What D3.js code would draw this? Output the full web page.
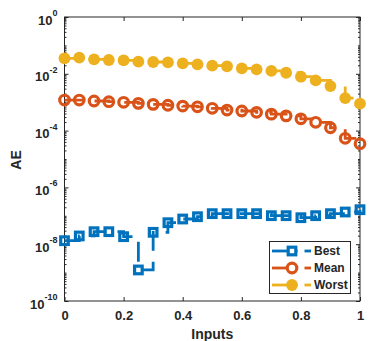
<!DOCTYPE html>
<html>
<head>
<meta charset="utf-8">
<script src="https://cdn.jsdelivr.net/npm/d3@7"></script>
<style>
  html, body { margin: 0; padding: 0; background: #fff; }
  svg { display: block; }
  text { font-family: "Liberation Sans", Arial, Helvetica, sans-serif; font-weight: bold; fill: #262626; }
</style>
</head>
<body>
<svg id="chart" width="375" height="341"></svg>
<script>
// Input positions (0 to 1 in steps of 0.05)
const inputs = [0, 0.05, 0.1, 0.15, 0.2, 0.25, 0.3, 0.35, 0.4, 0.45, 0.5,
                0.55, 0.6, 0.65, 0.7, 0.75, 0.8, 0.85, 0.9, 0.95, 1];

// Absolute error per input
const bestAE = [1.33e-8, 1.95e-8, 2.76e-8, 2.76e-8, 1.84e-8, 1.24e-9, 2.62e-8, 5.71e-8, 7.71e-8, 9.29e-8, 1.19e-7,
                1.19e-7, 1.19e-7, 1.19e-7, 1.01e-7, 1.01e-7, 8.57e-8, 1.01e-7, 1.19e-7, 1.36e-7, 1.64e-7];
const meanAE = [1.19e-3, 1.19e-3, 1.10e-3, 1.04e-3, 9.9e-4, 9.1e-4, 8.4e-4, 7.8e-4, 7.3e-4, 6.9e-4, 6.1e-4,
                5.3e-4, 4.9e-4, 4.4e-4, 3.8e-4, 3.3e-4, 2.6e-4, 1.96e-4, 1.26e-4, 5.35e-5, 3.46e-5];
const worstAE = [0.0352, 0.0369, 0.0324, 0.0306, 0.0299, 0.0267, 0.0260, 0.0254, 0.0234, 0.0216, 0.0193,
                 0.0184, 0.0156, 0.0144, 0.0126, 0.0109, 0.0079, 0.0059, 0.0037, 0.0014, 0.00089];

const seriesNames = ["Best", "Mean", "Worst"];
const seriesColors = ["#0072BD", "#D95319", "#EDB120"];
const xTicks = [0, 0.2, 0.4, 0.6, 0.8, 1];
const yTicks = [1e-10, 1e-8, 1e-6, 1e-4, 1e-2, 1];

const svg = d3.select("#chart");
const plotL = 64.5, plotR = 360, plotT = 17, plotB = 301;

const x = d3.scaleLinear().domain([0, 1]).range([plotL, plotR]);
const y = d3.scaleLog().domain([1e-10, 1]).range([plotB, plotT]);

// minor ticks on the log axis: 1..9 x 10^k, without labelled decades
const minorTicks = [];
for (let e = -10; e < 0; e++) {
  for (let m = 1; m <= 9; m++) {
    const v = m * Math.pow(10, e);
    if (!yTicks.some(t => Math.abs(t - v) / t < 1e-9)) minorTicks.push(v);
  }
}

const axisColor = "#262626";

// axes box
svg.append("rect")
  .attr("x", plotL).attr("y", plotT)
  .attr("width", plotR - plotL).attr("height", plotB - plotT)
  .attr("fill", "none").attr("stroke", axisColor).attr("stroke-width", 1);

// bottom axis (ticks point inward)
const gx = svg.append("g")
  .attr("transform", `translate(0,${plotB})`)
  .call(d3.axisBottom(x).tickValues(xTicks).tickFormat(d3.format("")).tickSizeInner(-4).tickSizeOuter(0).tickPadding(10));
gx.select(".domain").remove();
gx.selectAll("line").attr("stroke", axisColor);
gx.selectAll("text").style("font-size", "13px").attr("fill", axisColor);

// top axis ticks
const gxt = svg.append("g")
  .attr("transform", `translate(0,${plotT})`)
  .call(d3.axisTop(x).tickValues(xTicks).tickFormat("").tickSizeInner(-4).tickSizeOuter(0));
gxt.select(".domain").remove();
gxt.selectAll("line").attr("stroke", axisColor);

// left axis: major ticks with power-of-ten labels
const gy = svg.append("g")
  .attr("transform", `translate(${plotL},0)`)
  .call(d3.axisLeft(y).tickValues(yTicks).tickSizeInner(-4).tickSizeOuter(0).tickPadding(7));
gy.select(".domain").remove();
gy.selectAll("line").attr("stroke", axisColor);
gy.selectAll(".tick text")
  .attr("dy", null).attr("y", 7)
  .style("font-size", "13px")
  .each(function(d) {
    const t = d3.select(this).text(null);
    t.append("tspan").text("10");
    t.append("tspan").text(String(Math.round(Math.log10(d))))
      .style("font-size", "9px").attr("dy", -8.5);
  });

// left axis minor ticks
const gym = svg.append("g")
  .attr("transform", `translate(${plotL},0)`)
  .call(d3.axisLeft(y).tickValues(minorTicks).tickFormat("").tickSizeInner(-2).tickSizeOuter(0));
gym.select(".domain").remove();
gym.selectAll("line").attr("stroke", axisColor);

// right axis ticks (major and minor)
const gyr = svg.append("g")
  .attr("transform", `translate(${plotR},0)`)
  .call(d3.axisRight(y).tickValues(yTicks).tickFormat("").tickSizeInner(-4).tickSizeOuter(0));
gyr.select(".domain").remove();
gyr.selectAll("line").attr("stroke", axisColor);
const gyrm = svg.append("g")
  .attr("transform", `translate(${plotR},0)`)
  .call(d3.axisRight(y).tickValues(minorTicks).tickFormat("").tickSizeInner(-2).tickSizeOuter(0));
gyrm.select(".domain").remove();
gyrm.selectAll("line").attr("stroke", axisColor);

// axis titles
svg.append("text")
  .attr("x", (plotL + plotR) / 2).attr("y", 339)
  .attr("text-anchor", "middle").style("font-size", "14px")
  .text("Inputs");
svg.append("text")
  .attr("transform", "translate(21,160) rotate(-90)")
  .attr("text-anchor", "middle").style("font-size", "14px")
  .text("AE");

// data series: stepped dashed lines with markers
const seriesValues = [bestAE, meanAE, worstAE];
const line = d3.line()
  .x(d => x(d[0]))
  .y(d => y(d[1]))
  .curve(d3.curveStepAfter);

const symbols = [
  (g, c) => g.append("rect").attr("x", -3.8).attr("y", -3.8).attr("width", 7.6).attr("height", 7.6)
             .attr("fill", "none").attr("stroke", c).attr("stroke-width", 3.2),
  (g, c) => g.append("circle").attr("r", 4.8)
             .attr("fill", "none").attr("stroke", c).attr("stroke-width", 3.2),
  (g, c) => g.append("circle").attr("r", 5.9)
             .attr("fill", c).attr("stroke", "none")
];

seriesValues.forEach((vals, i) => {
  const pts = inputs.map((v, j) => [v, vals[j]]);
  const g = svg.append("g");
  g.append("path")
    .attr("d", line(pts))
    .attr("fill", "none")
    .attr("stroke", seriesColors[i])
    .attr("stroke-width", 2.8)
    .attr("stroke-dasharray", "20,11");
  pts.forEach(p => {
    const m = g.append("g").attr("transform", `translate(${x(p[0])},${y(p[1])})`);
    symbols[i](m, seriesColors[i]);
  });
});

// legend
const lg = svg.append("g");
lg.append("rect")
  .attr("x", 269.5).attr("y", 241.5).attr("width", 81).attr("height", 52)
  .attr("fill", "#fff").attr("stroke", axisColor).attr("stroke-width", 1);
seriesNames.forEach((name, i) => {
  const cy = 251 + i * 17;
  const c = seriesColors[i];
  lg.append("line").attr("x1", 272).attr("x2", 297.5).attr("y1", cy).attr("y2", cy)
    .attr("stroke", c).attr("stroke-width", 2.8);
  lg.append("line").attr("x1", 304.5).attr("x2", 311).attr("y1", cy).attr("y2", cy)
    .attr("stroke", c).attr("stroke-width", 2.8);
  const m = lg.append("g").attr("transform", `translate(292,${cy})`);
  symbols[i](m, c);
  if (i === 0) m.select("rect").attr("fill", "#fff");
  if (i === 1) m.select("circle").attr("fill", "#fff");
  lg.append("text").attr("x", 314).attr("y", cy + 4.4)
    .style("font-size", "12px").text(name);
});
</script>
</body>
</html>
